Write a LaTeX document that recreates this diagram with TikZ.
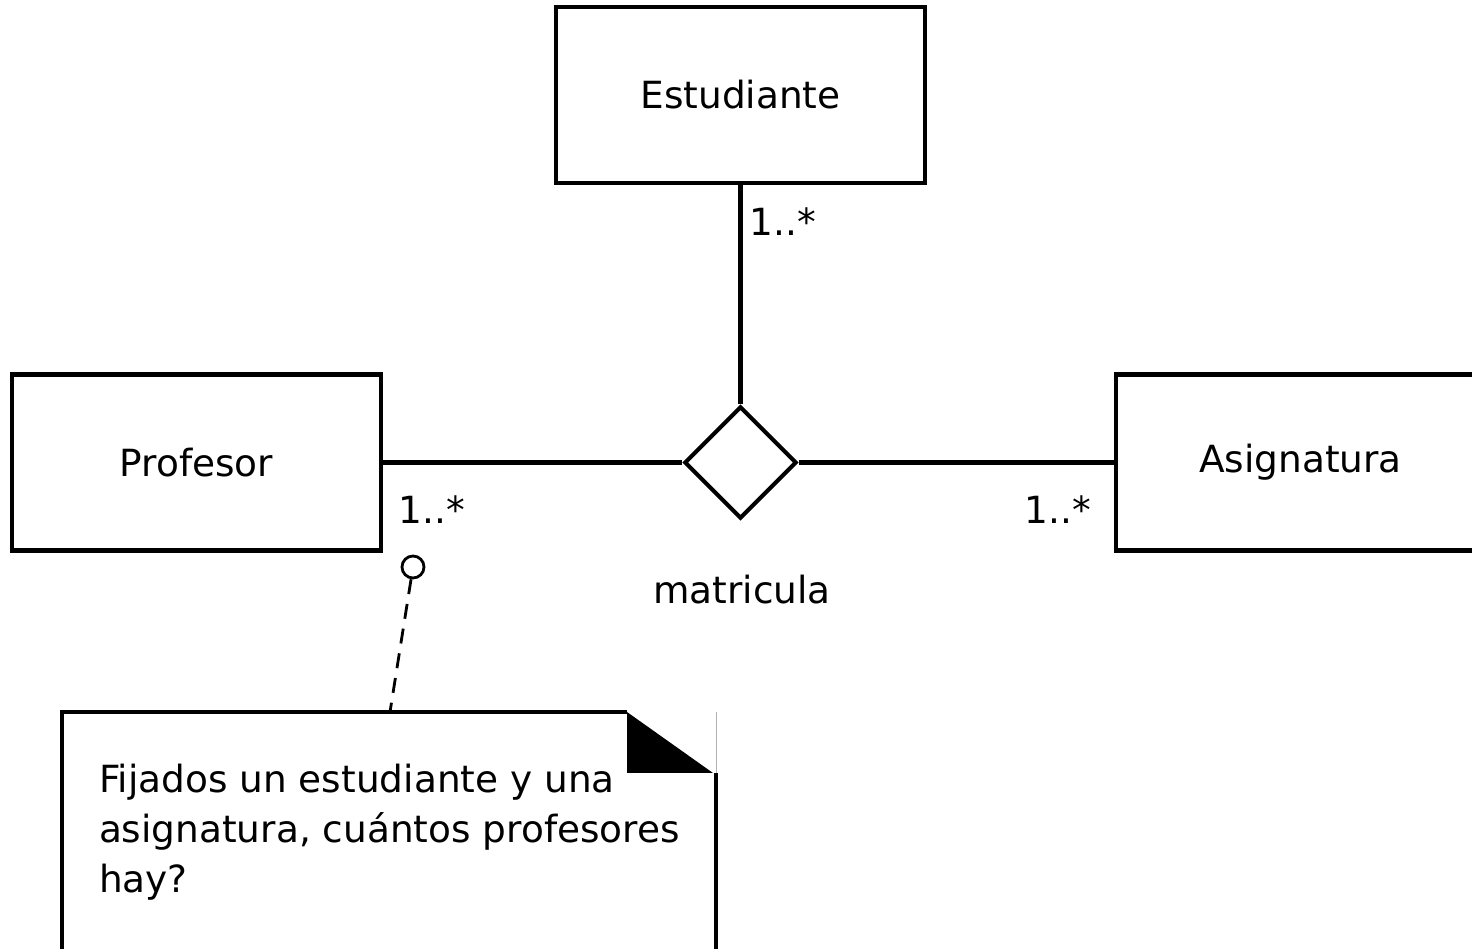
\documentclass[tikz,border=0pt]{standalone}
\usepackage{fontspec}
\setmainfont{DejaVu Sans}
\usetikzlibrary{shapes.geometric}

\begin{document}
\begin{tikzpicture}[line width=2.3pt,
	clase/.style={draw, rectangle, minimum width=7.38cm, minimum height=3.52cm, inner sep=0pt},
	rombo/.style={draw, diamond, minimum width=2.24cm, minimum height=2.24cm, inner sep=0pt},
	mult/.style={inner sep=0pt}]
	\useasboundingbox (0,0) rectangle (29.44,18.96);
	\clip (0,0) rectangle (29.44,18.96);
	\fontsize{21.3}{28.45}\selectfont

	\node[clase] (est) at (14.81,17.06) {Estudiante};
	\node[clase] (prof) at (3.93,9.71) {Profesor};
	\node[clase] (asig) at (26.01,9.71) {Asignatura};
	\node[rombo] (mat) at (14.81,9.71) {};

	\draw (est.south) -- (mat.north);
	\draw (prof.east) -- (mat.west);
	\draw (mat.east) -- (asig.west);

	\node[mult] (m1) at (15.66,14.52) {1..*};
	\node[mult] (m2) at (8.64,8.76) {1..*};
	\node[mult] (m3) at (21.16,8.76) {1..*};
	\node (nom) at (14.84,7.16) {matricula};

	% nota
	\node[draw, circle, minimum size=0.44cm, inner sep=0pt, line width=1.6pt] (anc) at (8.26,7.62) {};
	\coordinate (ntop) at (7.8,4.72);
	\draw[dash pattern=on 0.3cm off 0.2cm, line width=1.6pt] (anc) -- (ntop);

	\draw (14.32,-0.5) -- (14.32,3.5);
	\draw (12.54,4.72) -- (1.24,4.72) -- (1.24,-0.5);
	\fill (12.54,4.72) -- (12.54,3.5) -- (14.26,3.5) -- cycle;
	\draw[gray!60, line width=0.4pt] (14.32,4.72) -- (14.32,3.5);
	\node[anchor=base west, align=left, inner sep=0pt] (txt) at (1.94,1.12)
		{Fijados un estudiante y una\\asignatura, cuántos profesores\\hay?};

\end{tikzpicture}
\end{document}
